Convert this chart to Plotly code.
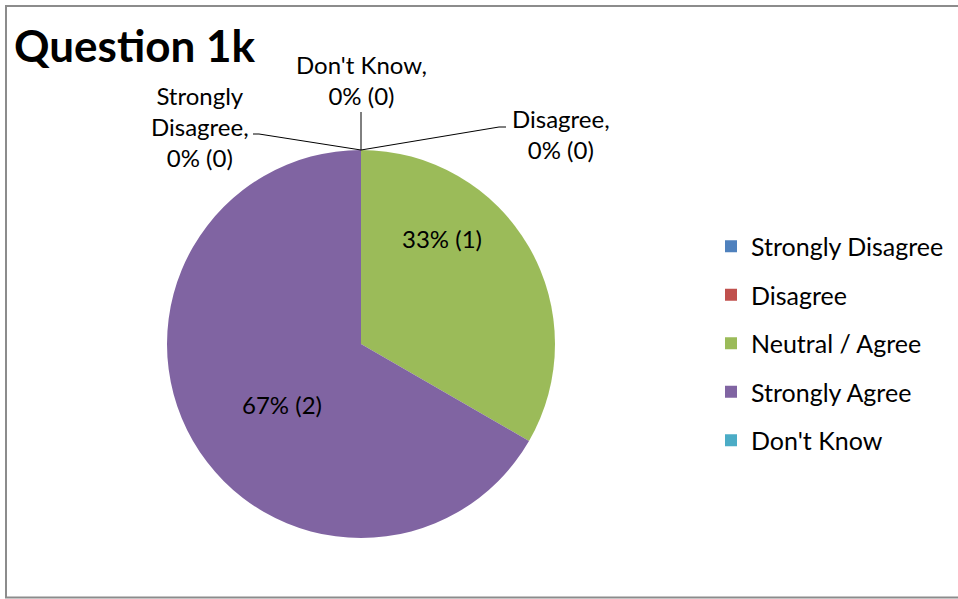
import plotly.graph_objects as go

# ---- data ----
categories = ["Strongly Disagree", "Disagree", "Neutral / Agree", "Strongly Agree", "Don't Know"]
values = [0, 0, 1, 2, 0]
colors = ["#4F81BD", "#C0504D", "#9BBB59", "#8064A2", "#4BACC6"]
title_text = "Question 1k"

W, H = 958, 599
FONT = "Lato, 'Noto Sans', sans-serif"
FS = 24
FS_LEG = 25

# pie placement (pixels)
cx, cy, r = 361, 344, 194

fig = go.Figure()
fig.add_trace(go.Pie(
    labels=categories, values=values, sort=False, direction="clockwise", rotation=0,
    marker=dict(colors=colors, line=dict(width=0)),
    textinfo="none",
    showlegend=False, hoverinfo="label+value+percent",
    domain=dict(x=[(cx - r) / W, (cx + r) / W], y=[(H - cy - r) / H, (H - cy + r) / H]),
))

# legend entries (square markers, one group each for spacing)
for cat, col in zip(categories, colors):
    fig.add_trace(go.Scatter(
        x=[None], y=[None], mode="markers", name=cat, legendgroup=cat,
        marker=dict(symbol="square", size=12, color=col),
        showlegend=True,
    ))

total = sum(values)
shapes = []
annotations = []

# label placement (pixels) - Excel-style positions
label_pos = {
    "Strongly Disagree": dict(text_xy=(200, 126), line_end=(259, 134), tick_end=(253, 134)),
    "Disagree": dict(text_xy=(561, 134), line_end=(499, 127), tick_end=(506, 127)),
    "Neutral / Agree": dict(text_xy=(442, 239)),
    "Strongly Agree": dict(text_xy=(282, 404)),
    "Don't Know": dict(text_xy=(361, 80), line_end=(361, 112), tick_end=None),
}
apex = (cx, cy - r)
for cat, v in zip(categories, values):
    p = label_pos[cat]
    pct = round(100 * v / total)
    if v > 0:
        txt = f"{pct}% ({v})"
    else:
        name = cat.replace("Strongly ", "Strongly<br>")
        txt = f"{name},<br>{pct}% ({v})"
    annotations.append(dict(
        x=p["text_xy"][0] / W, y=1 - p["text_xy"][1] / H, xref="paper", yref="paper",
        text=txt, showarrow=False, align="center",
        font=dict(family=FONT, size=FS, color="#000000"),
        xanchor="center", yanchor="middle",
    ))
    if v == 0:
        pts = [apex, p["line_end"]] + ([p["tick_end"]] if p["tick_end"] else [])
        for (x0, y0), (x1, y1) in zip(pts[:-1], pts[1:]):
            shapes.append(dict(type="line", xref="paper", yref="paper",
                               x0=x0 / W, y0=1 - y0 / H, x1=x1 / W, y1=1 - y1 / H,
                               line=dict(color="#000000", width=1)))

# chart border
shapes.append(dict(type="rect", xref="paper", yref="paper",
                   x0=6 / W, x1=1.02, y0=1.5 / H, y1=1 - 6 / H,
                   line=dict(color="#8c8c8c", width=2), fillcolor="rgba(0,0,0,0)", layer="above"))

annotations.append(dict(
    x=12 / W, y=1 - 45 / H, xref="paper", yref="paper", text=f"<b>{title_text}</b>",
    showarrow=False, xanchor="left", yanchor="middle",
    font=dict(family=FONT, size=44, color="#000000"),
))

fig.update_layout(
    width=W, height=H, margin=dict(l=0, r=0, t=0, b=0),
    paper_bgcolor="#ffffff", plot_bgcolor="#ffffff",
    xaxis=dict(visible=False), yaxis=dict(visible=False),
    showlegend=True,
    legend=dict(x=711 / W, y=1 - 343.5 / H, xanchor="left", yanchor="middle",
                font=dict(family=FONT, size=FS_LEG, color="#000000"),
                tracegroupgap=13, bgcolor="rgba(0,0,0,0)", itemclick=False),
    shapes=shapes, annotations=annotations,
)

fig.write_html("out.html", config={"displayModeBar": False},
               post_script="document.body.style.margin='0';document.body.style.overflow='hidden';")
